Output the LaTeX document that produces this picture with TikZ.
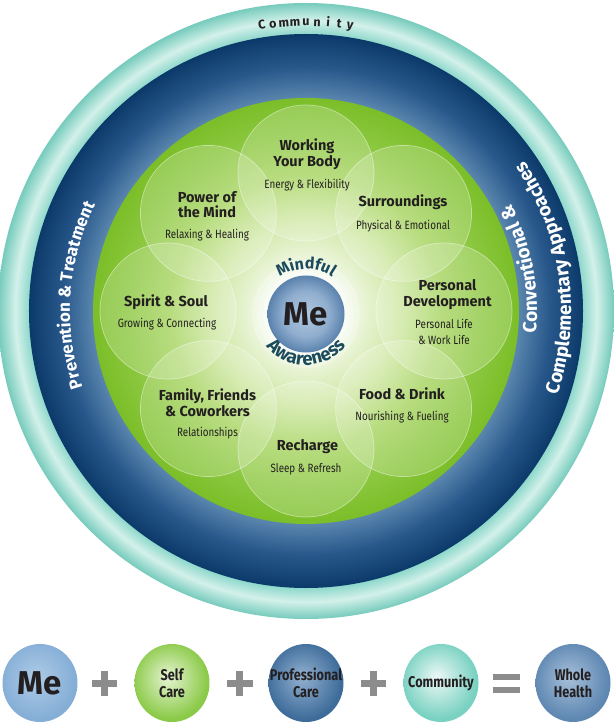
\documentclass[tikz,border=0pt]{standalone}
\usepackage{fontspec}
\setmainfont{Fira Sans}
\setsansfont{Fira Sans}
\newfontfamily\condfont[FakeStretch=0.82]{Fira Sans}
\usetikzlibrary{positioning,calc,shapes.geometric,decorations.text,fadings}

\definecolor{ink}{HTML}{231F20}
\definecolor{mindcol}{HTML}{1C4B5C}
\definecolor{opgray}{HTML}{8C8C8C}
\definecolor{tealin}{HTML}{8AD6C9}
\definecolor{teallight}{HTML}{D3F1EA}
\definecolor{tealedge}{HTML}{76CBBC}
\definecolor{navy}{HTML}{0B3A6A}
\definecolor{navymid}{HTML}{28588B}
\definecolor{navylight}{HTML}{5A86AE}
\definecolor{gzero}{HTML}{F6FBEE}
\definecolor{gone}{HTML}{EDF6DE}
\definecolor{gtwo}{HTML}{CFE8A4}
\definecolor{gthree}{HTML}{A6D45F}
\definecolor{gfour}{HTML}{8BC73F}
\definecolor{gfive}{HTML}{7BBE28}
\definecolor{mezero}{HTML}{B2CAE1}
\definecolor{meone}{HTML}{8FADCE}
\definecolor{metwo}{HTML}{5A82AD}

% ball colours of the bottom row
\definecolor{blueC}{HTML}{AECBE7}
\definecolor{blueE}{HTML}{85AED6}
\definecolor{selfC}{HTML}{E6F4D2}
\definecolor{selfE}{HTML}{8BCA48}
\definecolor{proC}{HTML}{93B1D0}
\definecolor{proE}{HTML}{3E6C9A}
\definecolor{commC}{HTML}{EDF9F6}
\definecolor{commE}{HTML}{78D1C1}
\definecolor{wholeC}{HTML}{A7C0D9}
\definecolor{wholeE}{HTML}{5E87B2}

% 25bp is the rim of the shaded circle
\pgfdeclareradialshading{tealring}{\pgfpoint{0bp}{0bp}}{color(0bp)=(tealin); color(22.4bp)=(tealin); color(23.6bp)=(teallight); color(25bp)=(tealedge); color(50bp)=(tealedge)}
\pgfdeclareradialshading{navyring}{\pgfpoint{0bp}{0bp}}{color(0bp)=(navylight); color(19.2bp)=(navylight); color(22bp)=(navymid); color(25bp)=(navy); color(50bp)=(navy)}
\pgfdeclareradialshading{greendisk}{\pgfpoint{0bp}{0bp}}{color(0bp)=(gzero); color(6bp)=(gone); color(11bp)=(gtwo); color(16bp)=(gthree); color(21bp)=(gfour); color(25bp)=(gfive); color(50bp)=(gfive)}
\pgfdeclareradialshading{meball}{\pgfpoint{0bp}{0bp}}{color(0bp)=(mezero); color(15bp)=(meone); color(25bp)=(metwo); color(50bp)=(metwo)}
\pgfdeclareradialshading{blueball}{\pgfpoint{-3bp}{4bp}}{color(0bp)=(blueC); color(25bp)=(blueE); color(50bp)=(blueE)}
\pgfdeclareradialshading{selfball}{\pgfpoint{-3bp}{4bp}}{color(0bp)=(selfC); color(25bp)=(selfE); color(50bp)=(selfE)}
\pgfdeclareradialshading{proball}{\pgfpoint{-3bp}{4bp}}{color(0bp)=(proC); color(25bp)=(proE); color(50bp)=(proE)}
\pgfdeclareradialshading{commball}{\pgfpoint{-3bp}{4bp}}{color(0bp)=(commC); color(25bp)=(commE); color(50bp)=(commE)}
\pgfdeclareradialshading{wholeball}{\pgfpoint{-3bp}{4bp}}{color(0bp)=(wholeC); color(25bp)=(wholeE); color(50bp)=(wholeE)}

\tikzfading[name=fadeends, left color=transparent!100, middle color=transparent!15, right color=transparent!100]

\newcommand{\bandfont}{\sffamily\bfseries\fontsize{17}{19}\selectfont\color{white}}
\newcommand{\widebandfont}{\sffamily\bfseries\fontsize{19}{21}\selectfont\color{white}}
\newcommand{\mindfont}{\sffamily\bfseries\fontsize{16}{18}\selectfont\color{mindcol}}
\newcommand{\awarefont}{\sffamily\bfseries\fontsize{18.5}{20}\selectfont\color{mindcol}}

\tikzset{
  petal/.style={fill=white, fill opacity=0.2, draw=white, draw opacity=0.45, line width=0.7pt},
  ptitle/.style={align=center, inner sep=0pt, text=ink, font=\bfseries\fontsize{14.5}{15.5}\selectfont},
  psub/.style={align=center, inner sep=0pt, text=ink, font=\condfont\fontsize{12}{15.5}\selectfont},
  prule/.style={fill=ink, path fading=fadeends},
  commletter/.style={anchor=base, inner sep=0pt, text=ink, font=\bfseries\fontsize{12.5}{13}\selectfont},
  ball/.style={ellipse, minimum width=75, minimum height=78, inner sep=0pt},
  balltext/.style={align=center, inner sep=0pt, text=ink, font=\condfont\bfseries\fontsize{15.5}{17}\selectfont},
  opsign/.style={draw=opgray, line width=7pt},
}

\begin{document}
\begin{tikzpicture}[x=1pt, y=1pt]
        \useasboundingbox[fill=white] (-306,-414) rectangle (307,311);
        % rings
        \shade[shading=tealring] (0,0) circle (308);
        \shade[shading=navyring] (0,0) circle (277);
        \shade[shading=greendisk] (0,0) circle (213);
        % petals
        \draw[petal] (0,138) circle (68);
        \draw[petal] (97.6,97.6) circle (68);
        \draw[petal] (138,0) circle (68);
        \draw[petal] (97.6,-97.6) circle (68);
        \draw[petal] (0,-138) circle (68);
        \draw[petal] (-97.6,-97.6) circle (68);
        \draw[petal] (-138,0) circle (68);
        \draw[petal] (-97.6,97.6) circle (68);
        % glow round the core
        \fill[white, opacity=0.25] (0,-3) circle (54);
        \fill[white, opacity=0.3] (0,-3) circle (48);
        \fill[white, opacity=0.4] (0,-3) circle (43);
        \node[circle, minimum size=77, inner sep=0pt, shading=meball, text=ink,
              font=\bfseries\fontsize{33}{35}\selectfont] (me) at (0,-3) {Me};

        % ring texts
        \foreach \ch [count=\i] in {C,o,m,m,u,n,i,t,y}
            \node[commletter, rotate={(5-\i)*2.2}] (comm\i) at ({90+(5-\i)*2.2}:285) {\ch};
        \path[decorate, decoration={text along path, text align=center,
              text={|\bandfont|Prevention {\&} Treatment}}]
            (225:236) arc[start angle=225, end angle=127, radius=236];
        \path[decorate, decoration={text along path, text align=center,
              text={|\widebandfont|Conventional {\&}}}]
            (-44:231) arc[start angle=-44, end angle=66, radius=231];
        \path[decorate, decoration={text along path, text align=center,
              text={|\widebandfont|Complementary Approaches}}]
            (-58:265) arc[start angle=-58, end angle=74, radius=265];
        \begin{scope}[shift={(0,-3)}]
            \path[decorate, decoration={text along path, text align=center,
                  text={|\mindfont|Mindful}}]
                (150:45) arc[start angle=150, end angle=30, radius=45];
            \path[decorate, decoration={text along path, text align=center,
                  text={|\awarefont|Awareness}}]
                (190:51) arc[start angle=190, end angle=350, radius=51];
        \end{scope}

        % petal labels
        \node[ptitle] (body) at (1,157) {Working\\Your Body};
        \fill[prule] (-29,138.4) rectangle (31,139.2);
        \node[psub] (bodysub) at (1,126) {Energy \& Flexibility};

        \node[ptitle] (mind) at (-99,106.5) {Power of\\the Mind};
        \fill[prule] (-134,88.6) rectangle (-64,89.4);
        \node[psub] (mindsub) at (-99,76) {Relaxing \& Healing};

        \node[ptitle] (surr) at (97,109) {Surroundings};
        \fill[prule] (58.5,95.6) rectangle (135.5,96.4);
        \node[psub] (surrsub) at (97,85) {Physical \& Emotional};

        \node[ptitle] (spirit) at (-140,9) {Spirit \& Soul};
        \fill[prule] (-169,-2.4) rectangle (-111,-1.6);
        \node[psub] (spiritsub) at (-139,-13) {Growing \& Connecting};

        \node[ptitle] (dev) at (141.5,16.5) {Personal\\Development};
        \fill[prule] (104,-2.4) rectangle (172,-1.6);
        \node[psub] (devsub) at (138,-21) {Personal Life\\\& Work Life};

        \node[ptitle] (family) at (-98.5,-91.5) {Family, Friends\\\& Coworkers};
        \fill[prule] (-143.5,-111.4) rectangle (-53.5,-110.6);
        \node[psub] (familysub) at (-98.5,-122) {Relationships};

        \node[ptitle] (food) at (96,-83) {Food \& Drink};
        \fill[prule] (58.5,-95.4) rectangle (133.5,-94.6);
        \node[psub] (foodsub) at (96,-106) {Nourishing \& Fueling};

        \node[ptitle] (recharge) at (1.5,-136) {Recharge};
        \fill[prule] (-19.5,-147.4) rectangle (22.5,-146.6);
        \node[psub] (rechargesub) at (0,-158) {Sleep \& Refresh};

        % bottom row
        \node[ball, shading=blueball] (summe) at (-266,-372) {};
        \node[balltext, font=\bfseries\fontsize{33}{35}\selectfont] (summetext) at (summe) {Me};
        \draw[opsign] (-213.5,-372) -- (-188.5,-372) (-201,-384.5) -- (-201,-359.5);
        \node[ball, shading=selfball] (self) at (-134,-372) {};
        \node[balltext] (selftext) at (self) {Self\\Care};
        \draw[opsign] (-78.5,-372) -- (-53.5,-372) (-66,-384.5) -- (-66,-359.5);
        \node[ball, shading=proball] (pro) at (0,-372) {};
        \node[balltext] (protext) at (pro) {Professional\\Care};
        \draw[opsign] (54.5,-372) -- (79.5,-372) (67,-384.5) -- (67,-359.5);
        \node[ball, shading=commball] (comm) at (135,-372) {};
        \node[balltext] (commtext) at (comm) {Community};
        \draw[opsign, line width=6pt] (186.5,-365.5) -- (213.5,-365.5) (186.5,-378.5) -- (213.5,-378.5);
        \node[ball, shading=wholeball] (whole) at (267,-372) {};
        \node[balltext] (wholetext) at (whole) {Whole\\Health};
\end{tikzpicture}
\end{document}
